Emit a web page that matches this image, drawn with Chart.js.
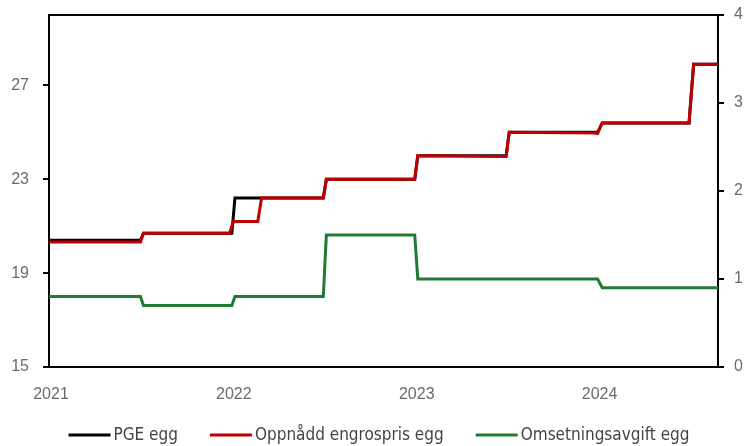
<!DOCTYPE html>
<html>
<head>
<meta charset="utf-8">
<script src="https://cdn.jsdelivr.net/npm/chart.js@4/dist/chart.umd.min.js"></script>
<style>
  html, body { margin: 0; padding: 0; background: #fff; overflow: hidden; }
  canvas { display: block; }
</style>
</head>
<body>
<canvas id="chart" width="744" height="446"></canvas>
<script>
// Time axis: months counted from January 2021
const yearTicks = [0, 12, 24, 36];
const yearLabels = ['2021', '2022', '2023', '2024'];
const leftTicks = [15, 19, 23, 27];
const rightTicks = [0, 1, 2, 3, 4];

// PGE egg (left axis)
const pgeMonth = [0, 6.0, 6.2, 12.0, 12.2, 18.0, 18.2, 24.0, 24.2, 30.0, 30.2, 36.0, 36.3, 42.0, 42.3, 43.9];
const pgeValue = [20.4, 20.4, 20.7, 20.7, 22.2, 22.2, 23.0, 23.0, 24.0, 24.0, 25.0, 25.0, 25.4, 25.4, 27.9, 27.9];

// Oppnådd engrospris egg (left axis)
const grossMonth = [0, 6.0, 6.2, 11.85, 12.1, 13.7, 13.95, 18.0, 18.2, 24.0, 24.2, 30.0, 30.2, 35.8, 36.0, 36.3, 42.0, 42.3, 43.9];
const grossValue = [20.33, 20.33, 20.7, 20.7, 21.2, 21.2, 22.2, 22.2, 23.0, 23.0, 24.0, 23.97, 25.0, 24.97, 24.95, 25.4, 25.4, 27.9, 27.9];

// Omsetningsavgift egg (right axis)
const levyMonth = [0, 6.0, 6.2, 12.0, 12.2, 18.0, 18.2, 24.0, 24.2, 36.0, 36.3, 43.9];
const levyValue = [0.8, 0.8, 0.7, 0.7, 0.8, 0.8, 1.5, 1.5, 1.0, 1.0, 0.9, 0.9];

const X_MAX = 43.9;
const TICK_FONT = { family: "'Liberation Sans', Arial, sans-serif", size: 16 };
const TICK_COLOR = '#6a6a6a';
const LEGEND_FONT = "17px 'DejaVu Sans Condensed', 'Liberation Sans Narrow', sans-serif";

const toPoints = (xs, ys) => xs.map((x, i) => ({ x, y: ys[i] }));

// Keep the plot frame fixed: no extra room for overhanging edge labels
const noEdgePadding = s => { s.paddingTop = 0; s.paddingBottom = 0; s.paddingLeft = 0; s.paddingRight = 0; };

// Legend drawn as short line swatches followed by the series name
const lineLegend = {
  id: 'lineLegend',
  afterDraw(chart) {
    const ctx = chart.ctx;
    const sets = chart.data.datasets;
    const swatch = 42, gap = 3, spacing = 32, y = 435, center = 379;
    ctx.save();
    ctx.font = LEGEND_FONT;
    const widths = sets.map(d => ctx.measureText(d.label).width);
    const total = widths.reduce((a, w) => a + swatch + gap + w, 0) + spacing * (sets.length - 1);
    let x = center - total / 2;
    sets.forEach((d, i) => {
      ctx.strokeStyle = d.borderColor;
      ctx.lineWidth = 3;
      ctx.beginPath();
      ctx.moveTo(x, y);
      ctx.lineTo(x + swatch, y);
      ctx.stroke();
      ctx.fillStyle = '#444';
      ctx.textAlign = 'left';
      ctx.textBaseline = 'middle';
      ctx.fillText(d.label, x + swatch + gap, y + 1);
      x += swatch + gap + widths[i] + spacing;
    });
    ctx.restore();
  }
};

new Chart(document.getElementById('chart'), {
  type: 'line',
  data: {
    datasets: [
      {
        label: 'PGE egg',
        data: toPoints(pgeMonth, pgeValue),
        yAxisID: 'y',
        borderColor: '#000000',
        backgroundColor: '#000000',
        borderWidth: 3,
        pointRadius: 0,
        order: 2
      },
      {
        label: 'Oppnådd engrospris egg',
        data: toPoints(grossMonth, grossValue),
        yAxisID: 'y',
        borderColor: '#C00000',
        backgroundColor: '#C00000',
        borderWidth: 3,
        pointRadius: 0,
        order: 1
      },
      {
        label: 'Omsetningsavgift egg',
        data: toPoints(levyMonth, levyValue),
        yAxisID: 'y2',
        borderColor: '#217A34',
        backgroundColor: '#217A34',
        borderWidth: 3,
        pointRadius: 0,
        order: 3
      }
    ]
  },
  options: {
    responsive: false,
    animation: false,
    devicePixelRatio: 1,
    layout: { padding: { top: 15, left: 0, right: 0, bottom: 0 } },
    plugins: { legend: { display: false }, tooltip: { enabled: false } },
    scales: {
      x: {
        type: 'linear',
        position: 'bottom',
        min: 0,
        max: X_MAX,
        afterBuildTicks: s => { s.ticks = yearTicks.map(v => ({ value: v })); },
        afterFit: s => { s.height = 79; noEdgePadding(s); },
        ticks: {
          callback: v => yearLabels[yearTicks.indexOf(v)],
          font: TICK_FONT,
          color: TICK_COLOR,
          padding: 18,
          labelOffset: 2,
          maxRotation: 0,
          autoSkip: false
        },
        grid: { display: false, drawTicks: false },
        border: { display: true, color: '#000', width: 2 }
      },
      xTop: {
        type: 'linear',
        position: 'top',
        min: 0,
        max: X_MAX,
        afterFit: s => { s.height = 0; noEdgePadding(s); },
        ticks: { display: false },
        grid: { display: false, drawTicks: false },
        border: { display: true, color: '#000', width: 2 }
      },
      y: {
        type: 'linear',
        position: 'left',
        min: 15,
        max: 30,
        afterBuildTicks: s => { s.ticks = leftTicks.map(v => ({ value: v })); },
        afterFit: s => { s.width = 49; noEdgePadding(s); },
        ticks: { font: TICK_FONT, color: TICK_COLOR, padding: 14 },
        grid: { drawOnChartArea: false, drawTicks: true, tickLength: 6, color: '#000', lineWidth: 2 },
        border: { display: true, color: '#000', width: 2 }
      },
      y2: {
        type: 'linear',
        position: 'right',
        min: 0,
        max: 4,
        afterBuildTicks: s => { s.ticks = rightTicks.map(v => ({ value: v })); },
        afterFit: s => { s.width = 26; noEdgePadding(s); },
        ticks: { font: TICK_FONT, color: TICK_COLOR, padding: 10 },
        grid: { drawOnChartArea: false, drawTicks: true, tickLength: 6, color: '#000', lineWidth: 2 },
        border: { display: true, color: '#000', width: 2 }
      }
    }
  },
  plugins: [lineLegend]
});
</script>
</body>
</html>
